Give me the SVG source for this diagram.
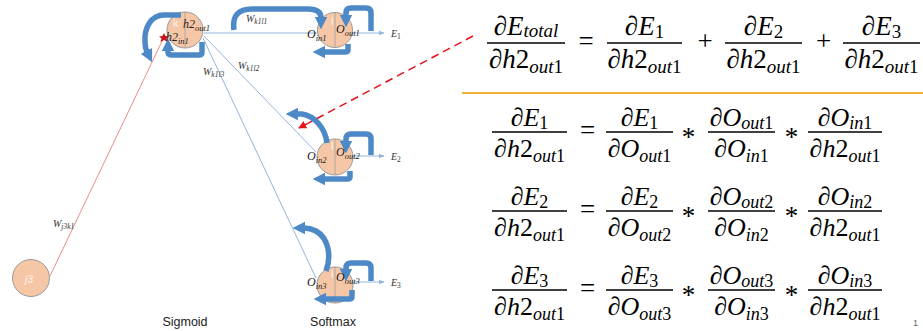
<svg xmlns="http://www.w3.org/2000/svg" width="923" height="331" viewBox="0 0 923 331">
<style>
.eq{font-family:"Liberation Serif","DejaVu Serif",serif;font-style:italic;font-size:27px;fill:#000}
.eq2{font-family:"Liberation Serif","DejaVu Serif",serif;font-style:italic;font-size:26px;fill:#000}
.op{font-family:"Liberation Serif","DejaVu Serif",serif;font-style:normal;font-size:27px;fill:#000}
.s1{font-size:19px}
.s2{font-size:18px}
.n{font-style:normal}
.bar{stroke:#000;stroke-width:1.4}
.lbl{font-family:"Liberation Serif",serif;font-style:italic;font-size:12px;fill:#222}
.lsub{font-size:8.5px}
.wl{font-family:"Liberation Serif",serif;font-style:italic;font-size:10px;fill:#333}
.wsub{font-size:7.5px}
.cap{font-family:"Liberation Sans",sans-serif;font-size:12.5px;fill:#222}
.node{fill:#F6C7A6;stroke:#9a9a9a;stroke-width:1}
.div{stroke:#a0a0a0;stroke-width:0.8}
.thin{stroke:#93B6DC;stroke-width:1;fill:none}
.loop{stroke:#4E89C7;stroke-width:5.5;fill:none;stroke-linecap:butt}
.faint{font-family:"Liberation Sans",sans-serif;font-size:11px;fill:#fff;opacity:0.75}
</style>
<defs>
<marker id="ba" viewBox="0 0 10 10" refX="1" refY="5" markerWidth="2.3" markerHeight="2.6" orient="auto">
<path d="M0,0 L10,5 L0,10 z" fill="#4E89C7"/>
</marker>
<marker id="ta" viewBox="0 0 10 10" refX="9" refY="5" markerWidth="6" markerHeight="6" orient="auto" markerUnits="userSpaceOnUse">
<path d="M0,1 L10,5 L0,9 z" fill="#93B6DC"/>
</marker>
<marker id="ra" viewBox="0 0 10 10" refX="9" refY="5" markerWidth="8" markerHeight="8" orient="auto" markerUnits="userSpaceOnUse">
<path d="M0,0 L10,5 L0,10 z" fill="#E5141B"/>
</marker>
</defs>
<rect width="923" height="331" fill="#fff"/>

<g id="connectors">
<line class="thin" x1="204" y1="33" x2="384" y2="33" marker-end="url(#ta)"/>
<line class="thin" x1="204" y1="36" x2="316" y2="152"/>
<line class="thin" x1="203" y1="38" x2="316" y2="278"/>
<line class="thin" x1="352" y1="156" x2="384" y2="156" marker-end="url(#ta)"/>
<line class="thin" x1="352" y1="282" x2="384" y2="282" marker-end="url(#ta)"/>
<line x1="50" y1="276" x2="164" y2="37" stroke="#F08A8A" stroke-width="1"/>
<polygon points="164,33 165.5,36 169,36.5 166.5,38.5 167.5,42 164,40 160.5,42 161.5,38.5 159,36.5 162.5,36" fill="#D0101A"/>
<line x1="473" y1="36" x2="299" y2="128" stroke="#E5141B" stroke-width="1.5" stroke-dasharray="8,5" marker-end="url(#ra)"/>
<text class="wl" x="246" y="22">W<tspan class="wsub" dy="2">k1l1</tspan></text>
<text class="wl" x="203" y="75">W<tspan class="wsub" dy="2">k1l3</tspan></text>
<text class="wl" x="238" y="69">W<tspan class="wsub" dy="2">k1l2</tspan></text>
<text class="wl" x="53" y="227">W<tspan class="wsub" dy="2">j3k1</tspan></text>
<text class="wl" x="391" y="37" font-size="9">E<tspan class="wsub" dy="2" font-style="normal">1</tspan></text>
<text class="wl" x="391" y="160" font-size="9">E<tspan class="wsub" dy="2" font-style="normal">2</tspan></text>
<text class="wl" x="391" y="286" font-size="9">E<tspan class="wsub" dy="2" font-style="normal">3</tspan></text>
</g>

<g id="node-j3">
<circle class="node" cx="31" cy="278" r="18.5"/>
<text class="faint" x="25" y="283" font-size="13" font-style="italic">j<tspan font-size="10">3</tspan></text>
</g>

<g id="node-h2">
<circle class="node" cx="185" cy="30" r="18"/>
<line class="div" x1="185" y1="12" x2="185" y2="48"/>
<text class="faint" x="173" y="27">k</text>
<path class="loop" d="M181,15 L164,15 C151,15 144,28 145,42 C145,47 146,50 147,52" marker-end="url(#ba)"/>
<path class="loop" d="M202,42 L202,52 Q202,55 199,55 L172,55 Q168,55 168,52 L168,50" marker-end="url(#ba)"/>
<text class="lbl" x="183" y="28">h2<tspan class="lsub" dy="3">out1</tspan></text>
<text class="lbl" x="166" y="41">h2<tspan class="lsub" dy="3">in1</tspan></text>
</g>

<g id="node-o1">
<circle class="node" cx="335" cy="30" r="17.5"/>
<line class="div" x1="335" y1="12.5" x2="335" y2="47.5"/>
<text class="faint" x="331" y="25">l</text>
<path class="loop" d="M234,30 C232,16 238,9 252,9 L308,9 C318,9 321,13 321,18" marker-end="url(#ba)"/>
<path class="loop" d="M371,31 L371,13 Q371,8 366,8 L351,8 Q346,8 346,13 L346,16" marker-end="url(#ba)"/>
<path class="loop" d="M348,44 L348,50 Q348,52 345,52 L324,52" marker-end="url(#ba)"/>
<text class="lbl" x="307" y="38">O<tspan class="lsub" dy="3">in1</tspan></text>
<text class="lbl" x="336" y="33">O<tspan class="lsub" dy="3">out1</tspan></text>
</g>

<g id="node-o2">
<circle class="node" cx="335" cy="157" r="18"/>
<line class="div" x1="335" y1="139" x2="335" y2="175"/>
<text class="faint" x="331" y="150">l</text>
<path class="loop" d="M327,143 C325,127 314,116 302,114 L297,114" marker-end="url(#ba)"/>
<path class="loop" d="M371,155 L371,139 Q371,134 366,134 L351,134 Q346,134 346,139 L346,142" marker-end="url(#ba)"/>
<path class="loop" d="M350,171 L350,177 Q350,179 347,179 L324,179" marker-end="url(#ba)"/>
<text class="lbl" x="307" y="160">O<tspan class="lsub" dy="3">in2</tspan></text>
<text class="lbl" x="336" y="156">O<tspan class="lsub" dy="3">out2</tspan></text>
</g>

<g id="node-o3">
<circle class="node" cx="335" cy="285" r="18"/>
<line class="div" x1="335" y1="267" x2="335" y2="303"/>
<text class="faint" x="331" y="278">l</text>
<path class="loop" d="M326,271 C332,255 328,238 316,231 C312,229 308,228 304,228" marker-end="url(#ba)"/>
<path class="loop" d="M371,281 L371,268 Q371,263 366,263 L351,263 Q346,263 346,268 L346,270" marker-end="url(#ba)"/>
<path class="loop" d="M352,290 L352,297 Q352,299 349,299 L325,299" marker-end="url(#ba)"/>
<text class="lbl" x="307" y="286">O<tspan class="lsub" dy="3">in3</tspan></text>
<text class="lbl" x="336" y="281">O<tspan class="lsub" dy="3">out3</tspan></text>
</g>

<g id="captions">
<text class="cap" x="185" y="326" text-anchor="middle">Sigmoid</text>
<text class="cap" x="333" y="326" text-anchor="middle">Softmax</text>
<text x="913" y="326" font-family="Liberation Sans,sans-serif" font-size="9" fill="#666">1</text>
</g>

<g id="eq-total">
<text class="eq" x="526" y="35" text-anchor="middle">∂E<tspan class="s1" dy="2">total</tspan></text>
<line class="bar" x1="487" y1="43" x2="565" y2="43"/>
<text class="eq" x="526" y="68" text-anchor="middle">∂h<tspan class="n">2</tspan><tspan class="s1" dy="5">out<tspan class="n">1</tspan></tspan></text>
<text class="op" x="586" y="50" text-anchor="middle">=</text>
<text class="eq" x="644.5" y="35" text-anchor="middle">∂E<tspan class="s1 n" dy="3">1</tspan></text>
<line class="bar" x1="607" y1="43" x2="682" y2="43"/>
<text class="eq" x="644.5" y="68" text-anchor="middle">∂h<tspan class="n">2</tspan><tspan class="s1" dy="5">out<tspan class="n">1</tspan></tspan></text>
<text class="op" x="705" y="50" text-anchor="middle">+</text>
<text class="eq" x="763.5" y="35" text-anchor="middle">∂E<tspan class="s1 n" dy="3">2</tspan></text>
<line class="bar" x1="725" y1="43" x2="802" y2="43"/>
<text class="eq" x="763.5" y="68" text-anchor="middle">∂h<tspan class="n">2</tspan><tspan class="s1" dy="5">out<tspan class="n">1</tspan></tspan></text>
<text class="op" x="823.5" y="50" text-anchor="middle">+</text>
<text class="eq" x="881.5" y="35" text-anchor="middle">∂E<tspan class="s1 n" dy="3">3</tspan></text>
<line class="bar" x1="843" y1="43" x2="920" y2="43"/>
<text class="eq" x="881.5" y="68" text-anchor="middle">∂h<tspan class="n">2</tspan><tspan class="s1" dy="5">out<tspan class="n">1</tspan></tspan></text>
</g>

<line x1="462" y1="93" x2="923" y2="93" stroke="#F2B134" stroke-width="2"/>

<g id="eq-rows">
<text class="eq2" x="529.5" y="126" text-anchor="middle">∂E<tspan class="s2 n" dy="3">1</tspan></text>
<line class="bar" x1="492" y1="132" x2="567" y2="132"/>
<text class="eq2" x="529.5" y="157" text-anchor="middle">∂h<tspan class="n">2</tspan><tspan class="s2" dy="5">out<tspan class="n">1</tspan></tspan></text>
<text class="op" x="587.5" y="139" text-anchor="middle" font-size="26">=</text>
<text class="eq2" x="639.5" y="126" text-anchor="middle">∂E<tspan class="s2 n" dy="3">1</tspan></text>
<line class="bar" x1="606" y1="132" x2="673" y2="132"/>
<text class="eq2" x="639.5" y="157" text-anchor="middle">∂O<tspan class="s2" dy="5">out<tspan class="n">1</tspan></tspan></text>
<text class="op" x="688.5" y="146" text-anchor="middle" font-size="26">*</text>
<text class="eq2" x="741.5" y="126" text-anchor="middle">∂O<tspan class="s2" dy="3">out<tspan class="n">1</tspan></tspan></text>
<line class="bar" x1="708" y1="132" x2="775" y2="132"/>
<text class="eq2" x="741.5" y="157" text-anchor="middle">∂O<tspan class="s2" dy="5">in<tspan class="n">1</tspan></tspan></text>
<text class="op" x="791.5" y="146" text-anchor="middle" font-size="26">*</text>
<text class="eq2" x="845" y="126" text-anchor="middle">∂O<tspan class="s2" dy="3">in<tspan class="n">1</tspan></tspan></text>
<line class="bar" x1="808" y1="132" x2="882" y2="132"/>
<text class="eq2" x="845" y="157" text-anchor="middle">∂h<tspan class="n">2</tspan><tspan class="s2" dy="5">out<tspan class="n">1</tspan></tspan></text>

<text class="eq2" x="529.5" y="205" text-anchor="middle">∂E<tspan class="s2 n" dy="3">2</tspan></text>
<line class="bar" x1="492" y1="211" x2="567" y2="211"/>
<text class="eq2" x="529.5" y="236" text-anchor="middle">∂h<tspan class="n">2</tspan><tspan class="s2" dy="5">out<tspan class="n">1</tspan></tspan></text>
<text class="op" x="587.5" y="218" text-anchor="middle" font-size="26">=</text>
<text class="eq2" x="639.5" y="205" text-anchor="middle">∂E<tspan class="s2 n" dy="3">2</tspan></text>
<line class="bar" x1="606" y1="211" x2="673" y2="211"/>
<text class="eq2" x="639.5" y="236" text-anchor="middle">∂O<tspan class="s2" dy="5">out<tspan class="n">2</tspan></tspan></text>
<text class="op" x="688.5" y="225" text-anchor="middle" font-size="26">*</text>
<text class="eq2" x="741.5" y="205" text-anchor="middle">∂O<tspan class="s2" dy="3">out<tspan class="n">2</tspan></tspan></text>
<line class="bar" x1="708" y1="211" x2="775" y2="211"/>
<text class="eq2" x="741.5" y="236" text-anchor="middle">∂O<tspan class="s2" dy="5">in<tspan class="n">2</tspan></tspan></text>
<text class="op" x="791.5" y="225" text-anchor="middle" font-size="26">*</text>
<text class="eq2" x="845" y="205" text-anchor="middle">∂O<tspan class="s2" dy="3">in<tspan class="n">2</tspan></tspan></text>
<line class="bar" x1="808" y1="211" x2="882" y2="211"/>
<text class="eq2" x="845" y="236" text-anchor="middle">∂h<tspan class="n">2</tspan><tspan class="s2" dy="5">out<tspan class="n">1</tspan></tspan></text>

<text class="eq2" x="529.5" y="284" text-anchor="middle">∂E<tspan class="s2 n" dy="3">3</tspan></text>
<line class="bar" x1="492" y1="290" x2="567" y2="290"/>
<text class="eq2" x="529.5" y="315" text-anchor="middle">∂h<tspan class="n">2</tspan><tspan class="s2" dy="5">out<tspan class="n">1</tspan></tspan></text>
<text class="op" x="587.5" y="297" text-anchor="middle" font-size="26">=</text>
<text class="eq2" x="639.5" y="284" text-anchor="middle">∂E<tspan class="s2 n" dy="3">3</tspan></text>
<line class="bar" x1="606" y1="290" x2="673" y2="290"/>
<text class="eq2" x="639.5" y="315" text-anchor="middle">∂O<tspan class="s2" dy="5">out<tspan class="n">3</tspan></tspan></text>
<text class="op" x="688.5" y="304" text-anchor="middle" font-size="26">*</text>
<text class="eq2" x="741.5" y="284" text-anchor="middle">∂O<tspan class="s2" dy="3">out<tspan class="n">3</tspan></tspan></text>
<line class="bar" x1="708" y1="290" x2="775" y2="290"/>
<text class="eq2" x="741.5" y="315" text-anchor="middle">∂O<tspan class="s2" dy="5">in<tspan class="n">3</tspan></tspan></text>
<text class="op" x="791.5" y="304" text-anchor="middle" font-size="26">*</text>
<text class="eq2" x="845" y="284" text-anchor="middle">∂O<tspan class="s2" dy="3">in<tspan class="n">3</tspan></tspan></text>
<line class="bar" x1="808" y1="290" x2="882" y2="290"/>
<text class="eq2" x="845" y="315" text-anchor="middle">∂h<tspan class="n">2</tspan><tspan class="s2" dy="5">out<tspan class="n">1</tspan></tspan></text>
</g>
</svg>
